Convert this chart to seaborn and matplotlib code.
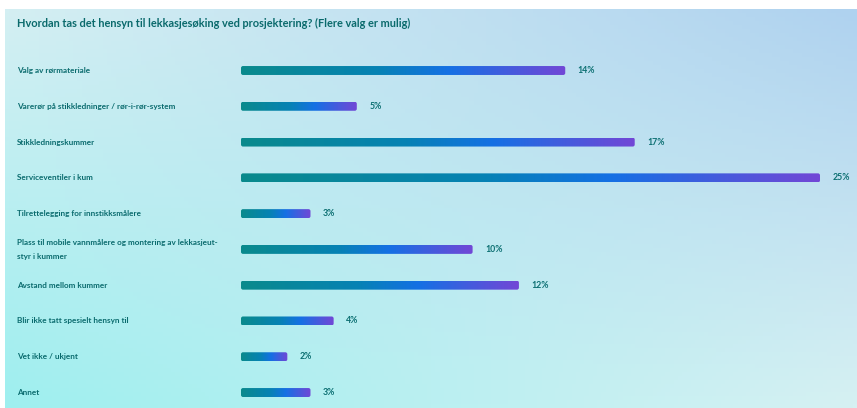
import numpy as np
import pandas as pd
import matplotlib
matplotlib.use("Agg")
import matplotlib.pyplot as plt
from matplotlib.colors import LinearSegmentedColormap, to_rgb
from matplotlib.patches import FancyBboxPatch
from matplotlib.transforms import blended_transform_factory
import seaborn as sns

title = "Hvordan tas det hensyn til lekkasjesøking ved prosjektering? (Flere valg er mulig)"
categories = [
    "Valg av rørmateriale",
    "Varerør på stikkledninger / rør-i-rør-system",
    "Stikkledningskummer",
    "Serviceventiler i kum",
    "Tilrettelegging for innstikksmålere",
    "Plass til mobile vannmålere og montering av lekkasjeut-\nstyr i kummer",
    "Avstand mellom kummer",
    "Blir ikke tatt spesielt hensyn til",
    "Vet ikke / ukjent",
    "Annet",
]
percent = [14, 5, 17, 25, 3, 10, 12, 4, 2, 3]

df = pd.DataFrame({"svar": categories, "andel": percent})

sns.set_theme(style="white")
plt.rcParams["font.family"] = ["Lato", "DejaVu Sans"]

W, H = 857, 408
fig = plt.figure(figsize=(W / 100, H / 100), dpi=100)
fig.patch.set_facecolor("white")

# soft background panel with a four-corner gradient
bg = fig.add_axes([5 / W, 0, 1 - 5 / W, (H - 9) / H])
bg.set_axis_off()
tl, tr = np.array(to_rgb("#d4eff3")), np.array(to_rgb("#afd2ef"))
bl, br = np.array(to_rgb("#9eefef")), np.array(to_rgb("#d6f1f3"))
u = np.linspace(0, 1, 200)[None, :, None]
v = np.linspace(0, 1, 100)[:, None, None]
grad = (1 - v) * ((1 - u) * tl + u * tr) + v * ((1 - u) * bl + u * br)
bg.imshow(grad, aspect="auto", extent=[0, 1, 0, 1], origin="upper")
bg.set_xlim(0, 1)
bg.set_ylim(0, 1)

# bar axes: x 0..25 spans the bar area, one row per category
x0, x1 = 241, 820
ytop, ybot = 40, 408
row0, row_step = 70.5, 35.78
ax = fig.add_axes([x0 / W, 0, (x1 - x0) / W, (ybot - ytop) / H])
ax.patch.set_alpha(0)
sns.barplot(data=df, x="andel", y="svar", orient="h", width=0.25, ax=ax,
            color="#0a8a8c", saturation=1)
ylim = (9 + (ybot - (row0 + 9 * row_step)) / row_step, -(row0 - ytop) / row_step)
ax.set_xlim(0, 25)
ax.set_ylim(*ylim)
ax.set_axis_off()

bar_cmap = LinearSegmentedColormap.from_list(
    "bar", [(0.0, "#0a8a8c"), (0.42, "#0682b4"), (0.64, "#1570e4"), (1.0, "#7247d6")])
ramp = np.linspace(0, 1, 256)[None, :]

xpx = 25 / (x1 - x0)
ypx = 1 / row_step
for patch, val in zip(ax.patches, df["andel"]):
    bx, by = patch.get_x(), patch.get_y()
    bw, bh = patch.get_width(), patch.get_height()
    patch.set_visible(False)
    r = 2.0 * xpx
    clip = FancyBboxPatch((bx, by), bw, bh,
                          boxstyle=f"round,pad=0,rounding_size={r}",
                          mutation_aspect=ypx / xpx,
                          facecolor="none", edgecolor="none",
                          transform=ax.transData)
    ax.add_patch(clip)
    im = ax.imshow(ramp, cmap=bar_cmap, aspect="auto",
                   extent=[bx, bx + bw, by + bh, by], interpolation="bilinear")
    im.set_clip_path(clip)
    ax.annotate(f"{val}%", xy=(bx + bw, by + bh / 2), xytext=(9, 0),
                textcoords="offset points", va="center", ha="left",
                fontsize=6.3, fontweight="bold", color="#0c6f72")

ax.set_xlim(0, 25)
ax.set_ylim(*ylim)

# category labels on the left
lab_tr = blended_transform_factory(fig.transFigure, ax.transData)
for i, name in enumerate(df["svar"]):
    ax.text(17 / W, i, name, transform=lab_tr, ha="left", va="center",
            fontsize=5.9, fontweight="bold", color="#0a6b6e",
            linespacing=2.1)

fig.text(17 / W, 1 - 23.5 / H, title, ha="left", va="center",
         fontsize=7.9, fontweight="bold", color="#0a6a6c")

fig.savefig("out.png", dpi=100)
